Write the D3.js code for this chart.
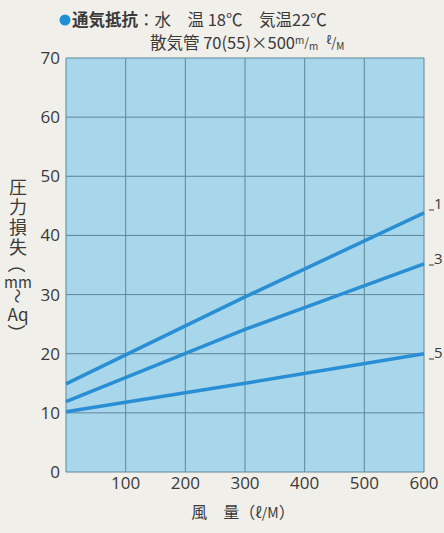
<!DOCTYPE html>
<html>
<head>
<meta charset="utf-8">
<script src="https://cdn.jsdelivr.net/npm/d3@7"></script>
<style>
  html, body { margin: 0; padding: 0; background: #f1efe9; }
  svg { display: block; font-family: "Noto Sans CJK JP", "Noto Sans", sans-serif; }
</style>
</head>
<body>
<svg id="chart" width="444" height="533"></svg>
<script>
// Data
const flows = [0, 300, 600];                 // 風量 (ℓ/M)
const seriesNames = ['1', '3', '5'];
const seriesValues = [
    [14.9, 29.6, 43.8],
    [11.9, 24.1, 35.2],
    [10.2, 15.0, 20.0]
];
const xTicks = [100, 200, 300, 400, 500, 600];
const yTicks = [0, 10, 20, 30, 40, 50, 60, 70];

const svg = d3.select('#chart');

// Plot area
const plotLeft = 66, plotRight = 424, plotTop = 58, plotBottom = 472;

const x = d3.scaleLinear().domain([0, 600]).range([plotLeft, plotRight]);
const y = d3.scaleLinear().domain([0, 70]).range([plotBottom, plotTop]);

const gridColor = '#5f8799';
const lineColor = '#2a8ed4';
const textColor = '#3a3a3a';
const numFont = '"Open Sans", sans-serif';

// Blue background of the plot
svg.append('rect')
    .attr('x', plotLeft).attr('y', plotTop)
    .attr('width', plotRight - plotLeft).attr('height', plotBottom - plotTop)
    .attr('fill', '#a8d6ea');

// Grid lines
svg.append('g')
    .selectAll('line')
    .data(yTicks)
    .enter()
    .append('line')
    .attr('x1', plotLeft).attr('x2', plotRight)
    .attr('y1', d => y(d)).attr('y2', d => y(d))
    .attr('stroke', gridColor).attr('stroke-width', 1);

svg.append('g')
    .selectAll('line')
    .data([0].concat(xTicks))
    .enter()
    .append('line')
    .attr('x1', d => x(d)).attr('x2', d => x(d))
    .attr('y1', plotTop).attr('y2', plotBottom)
    .attr('stroke', gridColor).attr('stroke-width', 1);

// Y tick labels
svg.append('g')
    .selectAll('text')
    .data(yTicks)
    .enter()
    .append('text')
    .attr('x', plotLeft - 6)
    .attr('y', d => y(d) + 6)
    .attr('text-anchor', 'end')
    .attr('font-family', numFont)
    .attr('font-size', 17)
    .attr('fill', textColor)
    .text(d => d);

// X tick labels
svg.append('g')
    .selectAll('text')
    .data(xTicks)
    .enter()
    .append('text')
    .attr('x', d => x(d))
    .attr('y', 489)
    .attr('text-anchor', 'middle')
    .attr('font-family', numFont)
    .attr('font-size', 17)
    .attr('fill', textColor)
    .text(d => d);

// Lines
const line = d3.line()
    .x((d, i) => x(flows[i]))
    .y(d => y(d));

svg.append('g')
    .selectAll('path')
    .data(seriesValues)
    .enter()
    .append('path')
    .attr('d', d => line(d))
    .attr('fill', 'none')
    .attr('stroke', lineColor)
    .attr('stroke-width', 3.5);

// Series labels at right edge
const labelY = [203, 258, 352];
const labels = svg.append('g');
seriesNames.forEach((name, i) => {
    labels.append('line')
        .attr('x1', 429).attr('x2', 434)
        .attr('y1', labelY[i] + 7).attr('y2', labelY[i] + 7)
        .attr('stroke', textColor).attr('stroke-width', 1);
    labels.append('text')
        .attr('x', 434)
        .attr('y', labelY[i] + 6)
        .attr('font-family', numFont)
        .attr('font-size', 15)
        .attr('fill', textColor)
        .text(name);
});

// Title
svg.append('circle')
    .attr('cx', 65).attr('cy', 20).attr('r', 5.5)
    .attr('fill', '#1f8fd8');

const t1 = svg.append('text')
    .attr('x', 72).attr('y', 26)
    .attr('font-size', 16.5)
    .attr('fill', textColor);
t1.append('tspan').attr('font-weight', 'bold').text('通気抵抗');
t1.append('tspan').text('：水　温 18℃　気温22℃');

const t2 = svg.append('text')
    .attr('x', 150).attr('y', 49)
    .attr('font-size', 16.5)
    .attr('fill', textColor);
t2.append('tspan').text('散気管 70(55)×500');
t2.append('tspan').attr('font-size', 10).attr('dy', -5).text('m');
t2.append('tspan').attr('font-size', 12).attr('dy', 3).text('/');
t2.append('tspan').attr('font-size', 10).attr('dy', 3).text('m');
t2.append('tspan').attr('font-size', 11).attr('dx', 8).attr('dy', -6).text('ℓ');
t2.append('tspan').attr('font-size', 13).attr('dy', 3).text('/');
t2.append('tspan').attr('font-size', 10).attr('dy', 3).text('M');

// X axis title
const xt = svg.append('text')
    .attr('x', 243).attr('y', 518)
    .attr('text-anchor', 'middle')
    .attr('font-size', 16)
    .attr('fill', textColor);
xt.append('tspan').text('風　量（');
xt.append('tspan').attr('font-size', 14).text('ℓ/M');
xt.append('tspan').text('）');

// Y axis title, stacked vertically
const yTitle = [
    { t: '圧', y: 186, rot: 0, size: 18 },
    { t: '力', y: 206, rot: 0, size: 18 },
    { t: '損', y: 226, rot: 0, size: 18 },
    { t: '失', y: 246, rot: 0, size: 18 },
    { t: '（', y: 264, rot: 90, size: 18 },
    { t: 'mm', y: 281, rot: 0, size: 15 },
    { t: '～', y: 296, rot: 90, size: 15 },
    { t: 'Aq', y: 313, rot: 0, size: 17 },
    { t: '）', y: 333, rot: 90, size: 18 }
];
svg.append('g')
    .selectAll('text')
    .data(yTitle)
    .enter()
    .append('text')
    .attr('transform', d => `translate(18,${d.y}) rotate(${d.rot})`)
    .attr('text-anchor', 'middle')
    .attr('dominant-baseline', 'central')
    .attr('font-size', d => d.size)
    .attr('fill', textColor)
    .text(d => d.t);
</script>
</body>
</html>
